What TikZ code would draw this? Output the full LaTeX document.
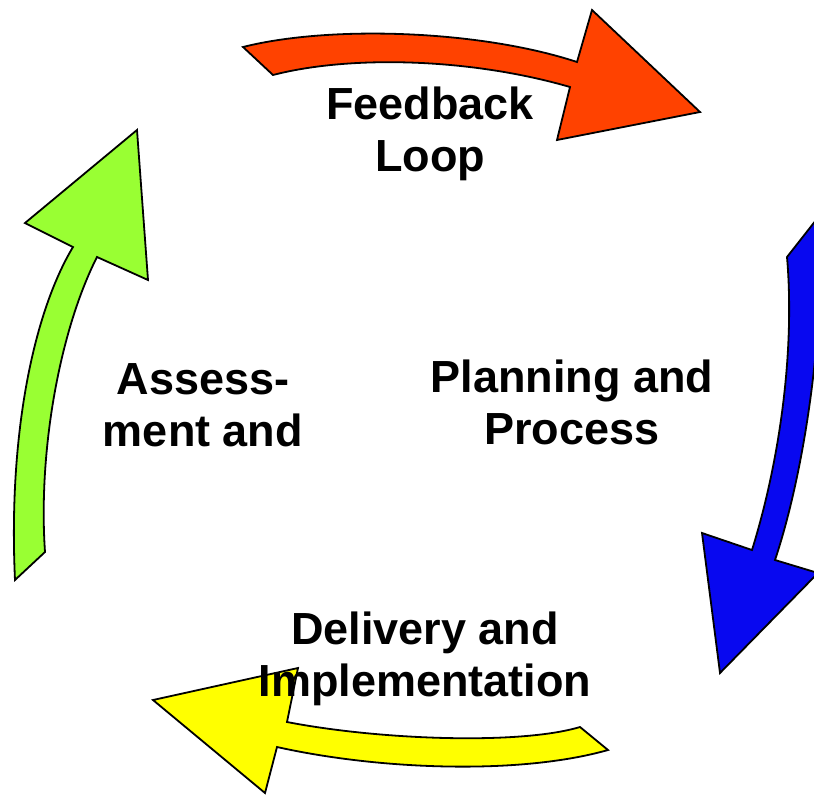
\documentclass[tikz,border=0pt]{standalone}
\usepackage{fontspec}
\setmainfont{Liberation Sans}
\usepackage{xcolor}
\usetikzlibrary{positioning}

\definecolor{loopred}{RGB}{255,66,0}
\definecolor{planblue}{RGB}{8,8,240}
\definecolor{delyellow}{RGB}{255,255,0}
\definecolor{assgreen}{RGB}{153,255,51}

\begin{document}
\begin{tikzpicture}[x=1pt,y=-1pt,
		bigarrow/.style={draw=black, line width=1.8pt, line join=miter},
		lbl/.style={font=\fontsize{45}{52}\selectfont\bfseries, align=center, inner sep=0pt}]
			\useasboundingbox (0,0) rectangle (814,796);
			\clip (0,0) rectangle (814,796);
			
			% red arrow, top
			\draw[bigarrow, fill=loopred] (243,47) .. controls (330,25) and (480,30) .. (577,62)
				-- (592,10) -- (700,112) -- (557,140) -- (570,87)
				.. controls (470,58) and (350,55) .. (273,75) -- cycle;
			% blue arrow, right
			\draw[bigarrow, fill=planblue] (787,257) .. controls (795,350) and (780,460) .. (752,550)
				-- (702,533) -- (720,673) -- (818,573) -- (775,560)
				.. controls (805,470) and (825,330) .. (820,215) -- cycle;
			% yellow arrow, bottom
			\draw[bigarrow, fill=delyellow] (580,727) .. controls (520,745) and (380,740) .. (287,722)
				-- (298,668) -- (153,700) -- (265,793) -- (277,747)
				.. controls (380,770) and (520,775) .. (608,750) -- cycle;
			% green arrow, left
			\draw[bigarrow, fill=assgreen] (15,580) .. controls (8,430) and (35,310) .. (73,247)
				-- (25,223) -- (137,130) -- (148,280) -- (97,257)
				.. controls (60,330) and (38,450) .. (45,552) -- cycle;
			
			\node[lbl] (plan) at (572,402) {Planning and\\Process};
			\node[lbl] (assess) at (203,405) {Assess-\\ment and};
			\node[lbl] (feedback) at (430,134) {Feedback\\Loop};
			\node[lbl] (delivery) at (425,659) {Delivery and\\Implementation};
		\end{tikzpicture}
\end{document}
